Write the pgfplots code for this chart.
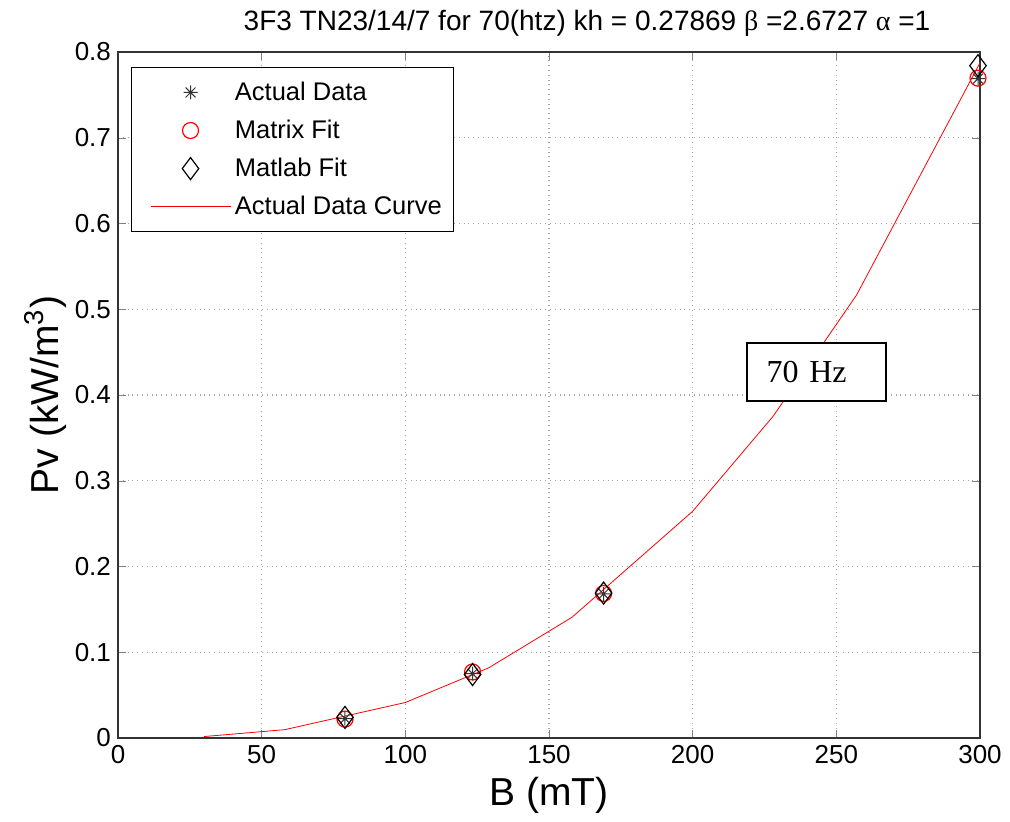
\documentclass[border=0pt]{standalone}
\usepackage{fontspec}
\setmainfont{Liberation Sans}
\newfontfamily\serifTimes{Liberation Serif}
\usepackage{pgfplots}
\pgfplotsset{compat=1.18}
\pgfdeclareplotmark{mstar}{%
  \pgfpathmoveto{\pgfqpoint{-\pgfplotmarksize}{0pt}}\pgfpathlineto{\pgfqpoint{\pgfplotmarksize}{0pt}}%
  \pgfpathmoveto{\pgfqpoint{0pt}{-\pgfplotmarksize}}\pgfpathlineto{\pgfqpoint{0pt}{\pgfplotmarksize}}%
  \pgfpathmoveto{\pgfqpoint{-0.707\pgfplotmarksize}{-0.707\pgfplotmarksize}}\pgfpathlineto{\pgfqpoint{0.707\pgfplotmarksize}{0.707\pgfplotmarksize}}%
  \pgfpathmoveto{\pgfqpoint{-0.707\pgfplotmarksize}{0.707\pgfplotmarksize}}\pgfpathlineto{\pgfqpoint{0.707\pgfplotmarksize}{-0.707\pgfplotmarksize}}%
  \pgfusepathqstroke}
\pgfplotsset{
  marklegend/.style={legend image code/.code={\path[draw=none] (0pt,0pt) -- (45.5pt,0pt); \path[##1, draw=none] plot coordinates {(25.5pt,0pt)};}},
  linelegend/.style={legend image code/.code={\draw[red, line width=0.4pt] (5.5pt,0pt) -- (45.5pt,0pt);}},
}
\begin{document}
\begin{tikzpicture}
\useasboundingbox (-59pt,-42pt) rectangle (446pt,369pt);
\begin{axis}[
  at={(0,0)}, anchor=south west,
  scale only axis, width=431pt, height=343pt,
  xmin=0, xmax=300, ymin=0, ymax=0.8,
  xtick={0,50,...,300}, ytick={0,0.1,...,0.8},
  yticklabel style={/pgf/number format/fixed, /pgf/number format/precision=1},
  /pgf/number format/assume math mode=true,
  tick label style={font=\fontsize{13}{15}\selectfont},
  tick align=inside, major tick length=4pt,
  grid=major, grid style={gray!70, dotted, line width=0.6pt},
  axis line style={black!80, line width=0.7pt},
  title={3F3 TN23/14/7 for 70(htz) kh = 0.27869 {\serifTimes β} =2.6727 {\serifTimes α} =1},
  title style={font=\fontsize{14}{16}\selectfont, yshift=-2pt, xshift=19pt},
  xlabel={B (mT)}, ylabel={Pv (kW/m\textsuperscript{3})},
  label style={font=\fontsize{19.5}{22}\selectfont},
  xlabel style={yshift=0pt},
  ylabel style={yshift=-3pt},
  legend style={at={(0.015,0.978)}, anchor=north west, draw=black, line width=0.6pt,
    font=\fontsize{12.75}{15}\selectfont, row sep=4.3pt, inner xsep=4pt, inner ysep=5pt,
    cells={anchor=west}},
  legend cell align=left,
]
\addplot[only marks, mark=mstar, mark size=3.5pt, black!80, line width=0.5pt, marklegend]
  coordinates {(79,0.0225) (123.4,0.0750) (169,0.1680) (299.3,0.7690)};
\addlegendentry{Actual Data}
\addplot[only marks, mark=o, mark size=4pt, red, line width=0.6pt, marklegend]
  coordinates {(79,0.0220) (123.4,0.0770) (169,0.1685) (299.3,0.7695)};
\addlegendentry{Matrix Fit}
\addplot[only marks, mark=diamond, mark size=5.5pt, black, line width=0.6pt, marklegend]
  coordinates {(79,0.0240) (123.4,0.0740) (169,0.1690) (299.3,0.7840)};
\addlegendentry{Matlab Fit}
\addplot[red, line width=0.4pt, mark=none, linelegend]
  coordinates {(30,0.0017) (58,0.0097) (100,0.0414) (129,0.0818) (158,0.1408) (200,0.2644) (228,0.3752) (257,0.5164) (302,0.800)};
\addlegendentry{Actual Data Curve}
\node[draw=black, line width=0.8pt, fill=white, font=\serifTimes\fontsize{16}{18}\selectfont,
  minimum width=69.5pt, minimum height=29pt, text width=49.5pt, align=left, inner xsep=10pt]
  at (axis cs:243,0.427) {70 Hz};
\end{axis}
\end{tikzpicture}
\end{document}
